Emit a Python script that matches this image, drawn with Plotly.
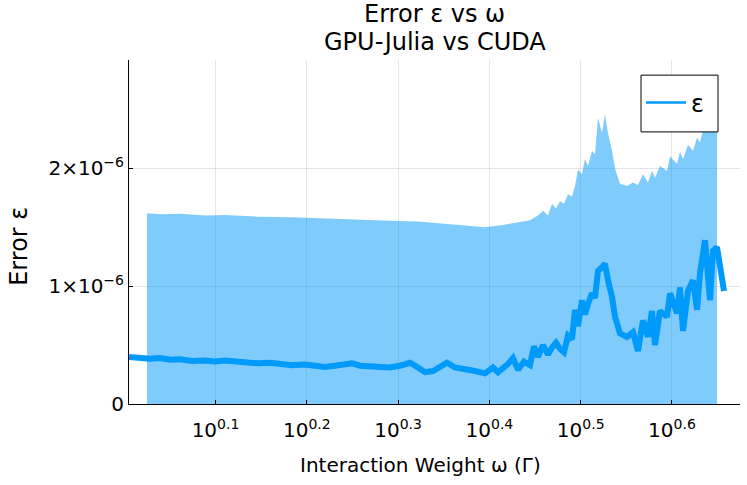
import plotly.graph_objects as go

# line: omega values and error (x1e-6)
omega = [1.0122, 1.0407, 1.0672, 1.0945, 1.1224, 1.1511, 1.1865, 1.2260, 1.2573, 1.2894,
         1.3392, 1.4014, 1.4444, 1.4813, 1.5268, 1.5777, 1.6180, 1.6593, 1.7017, 1.7452,
         1.7763, 1.8125, 1.8588, 1.9063, 1.9550, 2.0049, 2.0561, 2.0980, 2.1354, 2.1789,
         2.2346, 2.2572, 2.3032, 2.3620, 2.4224, 2.4842, 2.5348, 2.5670, 2.5996, 2.6325,
         2.6660, 2.6998, 2.7410, 2.7828, 2.8110, 2.8395, 2.8755, 2.9120, 2.9415, 2.9714,
         3.0015, 3.0319, 3.0627, 3.0937, 3.1172, 3.1409, 3.1727, 3.1968, 3.2210, 3.2538,
         3.2784, 3.3034, 3.3368, 3.3621, 3.3877, 3.4221, 3.4481, 3.4918, 3.5540, 3.6082,
         3.6540, 3.7004, 3.7473, 3.7853, 3.8141, 3.8625, 3.9312, 3.9612, 4.0317, 4.0623,
         4.0932, 4.1452, 4.1978, 4.2403, 4.2726, 4.3267, 4.3817, 4.4150, 4.4597, 4.5391]
err = [0.40, 0.39, 0.385, 0.39, 0.375, 0.38, 0.365, 0.37, 0.36, 0.37,
       0.355, 0.345, 0.35, 0.335, 0.33, 0.335, 0.32, 0.315, 0.325, 0.33,
       0.345, 0.325, 0.32, 0.315, 0.31, 0.325, 0.35, 0.31, 0.27, 0.28,
       0.33, 0.35, 0.31, 0.30, 0.28, 0.26, 0.31, 0.27, 0.30, 0.34,
       0.39, 0.29, 0.36, 0.33, 0.49, 0.40, 0.50, 0.42, 0.48, 0.52,
       0.47, 0.44, 0.58, 0.55, 0.80, 0.66, 0.88, 0.76, 0.85, 0.94,
       0.90, 1.13, 1.16, 1.19, 1.05, 0.91, 0.74, 0.60, 0.57, 0.61,
       0.45, 0.71, 0.57, 0.79, 0.50, 0.79, 0.74, 0.94, 0.77, 0.99,
       0.62, 0.96, 1.05, 0.80, 1.11, 1.39, 0.88, 1.30, 1.33, 0.96]

# ribbon upper bound (x1e-6)
omega_rib = [1.0592, 1.0945, 1.1511, 1.2260, 1.2894, 1.4014, 1.5268, 1.6593, 1.8125, 1.9550,
             2.0980, 2.2572, 2.4224, 2.4842, 2.5996, 2.6998, 2.7828, 2.8395, 2.8755, 2.9120,
             2.9415, 2.9714, 3.0015, 3.0319, 3.0627, 3.0937, 3.1172, 3.1409, 3.1727, 3.1968,
             3.2210, 3.2538, 3.2784, 3.3034, 3.3368, 3.3621, 3.3877, 3.4221, 3.4481, 3.4918,
             3.5540, 3.6082, 3.6540, 3.7004, 3.7473, 3.7853, 3.8141, 3.8625, 3.9312, 3.9612,
             4.0317, 4.0623, 4.0932, 4.1452, 4.1978, 4.2403, 4.2726, 4.3267, 4.3817, 4.4150,
             4.4597]
rib_up = [1.62, 1.61, 1.615, 1.60, 1.605, 1.59, 1.585, 1.575, 1.56, 1.555,
          1.55, 1.53, 1.51, 1.50, 1.52, 1.54, 1.56, 1.60, 1.64, 1.60,
          1.70, 1.66, 1.72, 1.70, 1.78, 1.76, 1.85, 1.99, 1.95, 2.08,
          2.02, 2.15, 2.12, 2.43, 2.30, 2.46, 2.30, 2.15, 2.00, 1.87,
          1.85, 1.88, 1.86, 1.95, 1.88, 1.98, 1.92, 2.02, 1.98, 2.10,
          2.04, 2.14, 2.08, 2.20, 2.15, 2.26, 2.22, 2.40, 2.34, 2.60,
          2.75]

xtick_vals = [10**0.1, 10**0.2, 10**0.3, 10**0.4, 10**0.5, 10**0.6]
xtick_text = ['10<sup>0.1</sup>', '10<sup>0.2</sup>', '10<sup>0.3</sup>',
              '10<sup>0.4</sup>', '10<sup>0.5</sup>', '10<sup>0.6</sup>']
ytick_vals = [0, 1e-6, 2e-6]
ytick_text = ['0', '1×10<sup>−6</sup>', '2×10<sup>−6</sup>']

blue = '#009AFA'
font = 'DejaVu Sans'

fig = go.Figure()
fig.add_trace(go.Scatter(x=omega_rib, y=[v*1e-6 for v in rib_up], mode='lines',
                         line=dict(width=0, color=blue), fill='tozeroy',
                         fillcolor='rgba(0,154,250,0.5)', showlegend=False,
                         hoverinfo='skip'))
fig.add_trace(go.Scatter(x=omega, y=[v*1e-6 for v in err], mode='lines',
                         line=dict(width=6, color=blue), showlegend=False))
# legend entry with thin line like the original
fig.add_trace(go.Scatter(x=[None], y=[None], mode='lines', name='ε',
                         line=dict(width=2.5, color=blue)))

fig.update_layout(
    width=747, height=485,
    margin=dict(l=129, r=7, t=60, b=81),
    paper_bgcolor='white', plot_bgcolor='white',
    font=dict(family=font, color='black', size=20),
    showlegend=True,
    legend=dict(x=0.838, y=0.875, xanchor='left', yanchor='middle',
                borderwidth=0, bgcolor='rgba(0,0,0,0)', itemwidth=40,
                font=dict(size=24, family=font)),
    xaxis=dict(type='log', range=[0.00526, 0.6745],
               tickvals=xtick_vals, ticktext=xtick_text,
               ticks='inside', ticklen=4, tickcolor='black', ticklabelstandoff=8,
               showgrid=True, gridcolor='rgba(0,0,0,0.1)', gridwidth=0.5,
               showline=True, linecolor='black', linewidth=1, zeroline=False,
               tickfont=dict(size=20)),
    yaxis=dict(range=[0, 2.92e-6],
               tickvals=ytick_vals, ticktext=ytick_text,
               ticks='inside', ticklen=4, tickcolor='black',
               showgrid=True, gridcolor='rgba(0,0,0,0.1)', gridwidth=0.5,
               showline=True, linecolor='black', linewidth=1, zeroline=False,
               tickfont=dict(size=20)),
    shapes=[dict(type='rect', xref='paper', yref='paper', x0=0.838, x1=0.964,
                 y0=0.791, y1=0.956, line=dict(color='black', width=1),
                 fillcolor='white', layer='above')],
    annotations=[
        dict(text='Error ε vs ω', xref='paper', yref='paper', x=0.5, y=1.1328,
             xanchor='center', yanchor='middle', showarrow=False,
             font=dict(size=24, family=font)),
        dict(text='GPU-Julia vs CUDA', xref='paper', yref='paper', x=0.5, y=1.0535,
             xanchor='center', yanchor='middle', showarrow=False,
             font=dict(size=24, family=font)),
        dict(text='Interaction Weight ω (Γ)', xref='paper', yref='paper', x=0.477,
             y=-0.177, xanchor='center', yanchor='middle', showarrow=False,
             font=dict(size=20, family=font)),
        dict(text='Error ε', xref='paper', yref='paper', x=-0.18, y=0.457,
             xanchor='center', yanchor='middle', textangle=-90, showarrow=False,
             font=dict(size=24, family=font)),
    ],
)

# the page has an 8px body margin by default; drop it so the chart sits at 0,0
fig.write_html("out.html", config={'displayModeBar': False},
               post_script="document.body.style.margin='0';")
